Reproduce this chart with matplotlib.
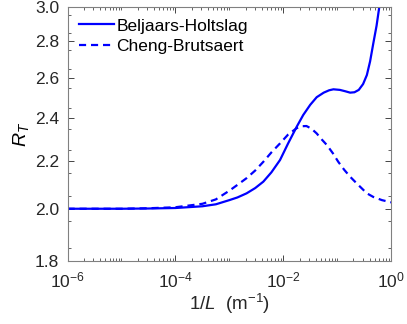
import numpy as np
import matplotlib
matplotlib.use("Agg")
import matplotlib.pyplot as plt
from matplotlib.ticker import FixedLocator, FixedFormatter, NullFormatter, LogLocator

plt.rcParams['font.family'] = ['Liberation Sans', 'DejaVu Sans']
plt.rcParams['mathtext.fontset'] = 'custom'
plt.rcParams['mathtext.rm'] = 'Liberation Sans'
plt.rcParams['mathtext.it'] = 'Liberation Sans:italic'

# Beljaars-Holtslag (solid): log10(1/L) and R_T
bh_logx = [-6.0, -5.0, -4.5, -4.0, -3.5, -3.25, -3.0, -2.85, -2.68, -2.52, -2.37,
           -2.22, -2.06, -1.91, -1.75, -1.63, -1.5, -1.38, -1.25, -1.15, -1.07,
           -0.95, -0.85, -0.76, -0.68, -0.6, -0.52, -0.45, -0.39, -0.33, -0.27,
           -0.22, -0.15]
bh_rt = [2.000, 2.000, 2.001, 2.003, 2.010, 2.018, 2.035, 2.046, 2.063, 2.085, 2.112,
         2.152, 2.206, 2.281, 2.359, 2.415, 2.465, 2.503, 2.526, 2.538, 2.543,
         2.540, 2.533, 2.526, 2.528, 2.540, 2.570, 2.617, 2.69, 2.79, 2.89,
         3.0, 3.15]

# Cheng-Brutsaert (dashed)
cb_logx = [-6.0, -5.0, -4.5, -4.0, -3.5, -3.25, -3.0, -2.84, -2.68, -2.52, -2.37,
           -2.22, -2.06, -1.91, -1.75, -1.66, -1.57, -1.48, -1.38, -1.29, -1.19,
           -1.08, -0.98, -0.87, -0.76, -0.64, -0.55, -0.45, -0.33, -0.17, 0.0]
cb_rt = [2.000, 2.000, 2.002, 2.006, 2.020, 2.038, 2.074, 2.100, 2.127, 2.160, 2.198,
         2.240, 2.281, 2.322, 2.352, 2.361, 2.362, 2.350, 2.327, 2.300, 2.273,
         2.236, 2.198, 2.163, 2.133, 2.105, 2.085, 2.063, 2.048, 2.035, 2.026]

yticks = [1.8, 2.0, 2.2, 2.4, 2.6, 2.8, 3.0]
ytick_labels = ['1.8', '2.0', '2.2', '2.4', '2.6', '2.8', '3.0']
xticks = [1e-6, 1e-4, 1e-2, 1e0]
xtick_labels = [r'10$^{\mathregular{-6}}$', r'10$^{\mathregular{-4}}$',
                r'10$^{\mathregular{-2}}$', r'10$^{\mathregular{0}}$']

axcol = '#262626'
fig = plt.figure(figsize=(4.07, 3.24), dpi=100)
ax = fig.add_axes([0.166, 0.194, 0.795, 0.784])

ax.plot(10.0 ** np.array(bh_logx), bh_rt, '-', color='#0000ff', lw=1.6, label='Beljaars-Holtslag')
ax.plot(10.0 ** np.array(cb_logx), cb_rt, '--', color='#0000ff', lw=1.6, dashes=(3.2, 2.2),
        label='Cheng-Brutsaert')

ax.set_xscale('log')
ax.set_yscale('log')
ax.set_xlim(1e-6, 1e0)
ax.set_ylim(1.8, 3.0)

ax.xaxis.set_major_locator(FixedLocator(xticks))
ax.xaxis.set_major_formatter(FixedFormatter(xtick_labels))
ax.xaxis.set_minor_locator(LogLocator(base=10, subs=np.arange(1, 10), numticks=50))
ax.xaxis.set_minor_formatter(NullFormatter())

ax.yaxis.set_major_locator(FixedLocator(yticks))
ax.yaxis.set_major_formatter(FixedFormatter(ytick_labels))
ax.yaxis.set_minor_locator(FixedLocator(np.arange(1.85, 3.0, 0.1)))
ax.yaxis.set_minor_formatter(NullFormatter())

ax.tick_params(which='both', direction='in', top=True, right=True, colors=axcol,
               labelsize=12.5)
ax.tick_params(which='major', length=4, width=0.6)
ax.tick_params(which='minor', length=2, width=0.5)
ax.tick_params(axis='x', which='major', pad=7)
ax.tick_params(axis='y', which='major', pad=6)
for s in ax.spines.values():
    s.set_color('#808080')
    s.set_linewidth(0.8)

ax.set_ylabel(r'$R_T$', fontsize=14, color='black', labelpad=3)
ax.set_xlabel(r'$1/L$  (m$^{\mathregular{ -1}}$)', fontsize=13.5, color=axcol, labelpad=1)

ax.legend(loc='upper left', frameon=False, fontsize=12.5, handlelength=2.0,
          handletextpad=0.15, borderaxespad=0.25, labelspacing=0.3)

fig.savefig('out.png', dpi=100)
